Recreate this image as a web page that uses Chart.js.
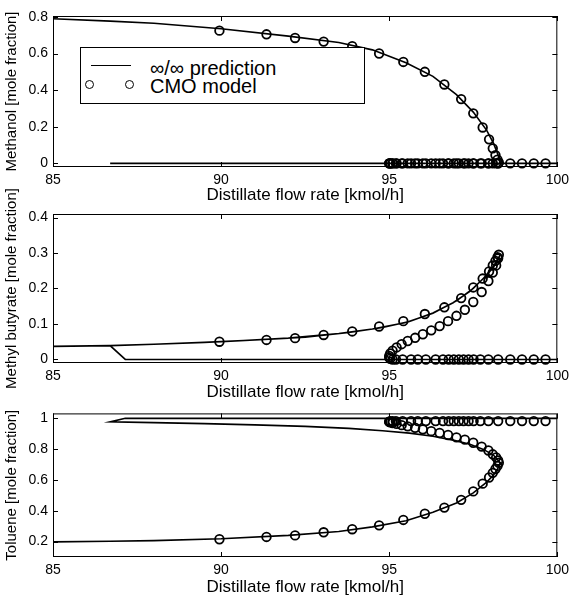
<!DOCTYPE html>
<html>
<head>
<meta charset="utf-8">
<script src="https://cdn.jsdelivr.net/npm/chart.js@4.4.0/dist/chart.umd.min.js"></script>
<style>
    body { margin: 0; background: #fff; width: 574px; height: 598px; position: relative; overflow: hidden;
           font-family: "Liberation Sans", Arial, Helvetica, sans-serif; }
    .panel { position: absolute; left: 0; width: 574px; }
    #p1 { top: 0; height: 206px; }
    #p2 { top: 180px; height: 223px; }
    #p3 { top: 400px; height: 198px; }
    .legend { position: absolute; left: 80px; top: 47px; width: 283px; height: 55px; border: 1.4px solid #000;
              background: #fff; z-index: 5; }
    .legend .txt { position: absolute; left: 69px; font-size: 20px; line-height: 20px; color: #000; white-space: nowrap; }
    .legend .line { position: absolute; left: 10px; top: 17px; width: 40px; border-top: 1.5px solid #000; }
    .legend .dot { position: absolute; top: 32px; width: 7px; height: 7px; border: 1.8px solid #000; border-radius: 50%; }
</style>
</head>
<body>
<div class="panel" id="p1"><canvas id="methanolChart"></canvas></div>
<div class="panel" id="p2"><canvas id="butyrateChart"></canvas></div>
<div class="panel" id="p3"><canvas id="tolueneChart"></canvas></div>
<div class="legend">
    <div class="line"></div>
    <div class="txt" style="top: 10px;">∞/∞ prediction</div>
    <div class="dot" style="left: 4px;"></div>
    <div class="dot" style="left: 44px;"></div>
    <div class="txt" style="top: 28px;">CMO model</div>
</div>
<script>
// axis ticks
const flowTicks = [85, 90, 95, 100];
const methanolTicks = [0, 0.2, 0.4, 0.6, 0.8];
const methanolTickLabels = ['0', '0.2', '0.4', '0.6', '0.8'];
const butyrateTicks = [0, 0.1, 0.2, 0.3, 0.4];
const butyrateTickLabels = ['0', '0.1', '0.2', '0.3', '0.4'];
const tolueneTicks = [0.2, 0.4, 0.6, 0.8, 1];
const tolueneTickLabels = ['0.2', '0.4', '0.6', '0.8', '1'];

// inf/inf prediction, one continuation path: up to the turning point, back, then the pure toluene branch
const predFlow = [85, 86.7, 88, 90, 92, 93.5, 94.5, 95.5, 96.3, 97, 97.5, 97.9, 98.1, 98.25, 98.3,
                  98.1, 97.8, 97.4, 96.9, 96.3, 95.6, 94.8, 93.8, 92.5, 91, 89.5, 88, 86.7,
                  87.15, 100];
const predMethanol = [0.79, 0.777, 0.765, 0.735, 0.695, 0.66, 0.62, 0.55, 0.475, 0.375, 0.28, 0.18, 0.11, 0.04, 0,
                      0, 0, 0, 0, 0, 0, 0, 0, 0, 0, 0, 0, 0,
                      0, 0];
const predButyrate = [0.037, 0.039, 0.043, 0.05, 0.06, 0.073, 0.086, 0.104, 0.13, 0.165, 0.2, 0.238, 0.26, 0.283, 0.295,
                      0.262, 0.228, 0.192, 0.16, 0.131, 0.107, 0.09, 0.076, 0.063, 0.055, 0.048, 0.043, 0.039,
                      0, 0];
const predToluene = [0.198, 0.202, 0.206, 0.218, 0.24, 0.265, 0.295, 0.335, 0.39, 0.45, 0.515, 0.585, 0.63, 0.68, 0.71,
                     0.76, 0.797, 0.83, 0.857, 0.882, 0.902, 0.918, 0.933, 0.946, 0.956, 0.964, 0.97, 0.975,
                     0.998, 0.998];

// CMO model points, same path order
const cmoFlow = [89.95, 91.35, 92.2, 93.05, 93.9, 94.7, 95.42, 96.06, 96.64, 97.14, 97.5, 97.78, 97.97, 98.08, 98.16, 98.22, 98.26,
                 98.24, 98.18, 98.08, 97.95, 97.75, 97.5, 97.25, 97.0, 96.75, 96.5, 96.25, 96.0, 95.77, 95.55, 95.37, 95.22, 95.1,
                 95.03, 95.0, 95.0, 95.03, 95.1,
                 95.2, 95.4, 95.65, 95.85, 96.09, 96.38, 96.6, 96.77, 96.92, 97.07, 97.21, 97.36, 97.51, 97.71, 97.95, 98.24,
                 98.6, 98.95, 99.3, 99.65];
const cmoMethanol = [0.725, 0.705, 0.685, 0.665, 0.64, 0.6, 0.554, 0.5, 0.431, 0.351, 0.273, 0.196, 0.131, 0.082, 0.045, 0.02, 0.005,
                     0, 0, 0, 0, 0, 0, 0, 0, 0, 0, 0, 0, 0, 0, 0, 0, 0,
                     0, 0, 0, 0, 0,
                     0, 0, 0, 0, 0, 0, 0, 0, 0, 0, 0, 0, 0, 0, 0, 0,
                     0, 0, 0, 0];
const cmoButyrate = [0.05, 0.055, 0.06, 0.069, 0.079, 0.093, 0.108, 0.128, 0.147, 0.173, 0.203, 0.228, 0.248, 0.265, 0.278, 0.288, 0.295,
                     0.285, 0.265, 0.245, 0.221, 0.19, 0.162, 0.14, 0.123, 0.108, 0.094, 0.082, 0.071, 0.061, 0.052, 0.043, 0.034, 0.025,
                     0.017, 0.01, 0.005, 0.002, 0,
                     0, 0, 0, 0, 0, 0, 0, 0, 0, 0, 0, 0, 0, 0, 0, 0,
                     0, 0, 0, 0];
const cmoToluene = [0.215, 0.23, 0.24, 0.26, 0.28, 0.305, 0.34, 0.38, 0.42, 0.47, 0.525, 0.575, 0.615, 0.645, 0.67, 0.69, 0.71,
                    0.725, 0.745, 0.765, 0.79, 0.815, 0.84, 0.86, 0.875, 0.89, 0.903, 0.915, 0.927, 0.937, 0.946, 0.954, 0.962, 0.968,
                    0.972, 0.975, 0.977, 0.979, 0.98,
                    0.98, 0.98, 0.98, 0.98, 0.98, 0.98, 0.98, 0.98, 0.98, 0.98, 0.98, 0.98, 0.98, 0.98, 0.98, 0.98,
                    0.98, 0.98, 0.98, 0.98];

const FONT = '"Liberation Sans", Arial, Helvetica, sans-serif';

// box round the plot with inward ticks on all four sides
const matlabFrame = {
    id: 'matlabFrame',
    afterDatasetsDraw(chart) {
        const { ctx, chartArea: a, scales: { x, y } } = chart;
        ctx.save();
        ctx.strokeStyle = '#000';
        ctx.lineWidth = 1;
        ctx.strokeRect(a.left + 0.5, a.top + 0.5, a.right - a.left - 1, a.bottom - a.top - 1);
        ctx.beginPath();
        x.ticks.forEach(t => {
            const px = Math.round(x.getPixelForValue(t.value)) + 0.5;
            ctx.moveTo(px, a.bottom); ctx.lineTo(px, a.bottom - 5);
            ctx.moveTo(px, a.top); ctx.lineTo(px, a.top + 5);
        });
        y.ticks.forEach(t => {
            const py = Math.round(y.getPixelForValue(t.value)) + 0.5;
            ctx.moveTo(a.left, py); ctx.lineTo(a.left + 5, py);
            ctx.moveTo(a.right, py); ctx.lineTo(a.right - 5, py);
        });
        ctx.stroke();
        ctx.restore();
    }
};

const toPoints = (xs, ys) => xs.map((v, i) => ({ x: v, y: ys[i] }));

const makeChart = (id, cfg) => {
    new Chart(document.getElementById(id), {
        type: 'scatter',
        data: {
            datasets: [
                {
                    label: '∞/∞ prediction',
                    data: toPoints(predFlow, cfg.pred),
                    showLine: true,
                    borderColor: '#000',
                    borderWidth: 1.6,
                    pointRadius: 0,
                    tension: 0,
                    clip: false
                },
                {
                    label: 'CMO model',
                    data: toPoints(cmoFlow, cfg.cmo),
                    showLine: false,
                    pointRadius: 4.3,
                    pointBorderWidth: 1.8,
                    pointBorderColor: '#000',
                    pointBackgroundColor: 'rgba(0,0,0,0)',
                    clip: false
                }
            ]
        },
        options: {
            responsive: true,
            maintainAspectRatio: false,
            animation: false,
            events: [],
            layout: { padding: { top: cfg.padTop, right: 12, left: 0, bottom: 0 } },
            plugins: { legend: { display: false }, tooltip: { enabled: false } },
            scales: {
                x: {
                    type: 'linear',
                    min: 85,
                    max: 100,
                    grid: { display: false, drawTicks: false },
                    border: { display: false },
                    afterBuildTicks: s => { s.ticks = flowTicks.map(v => ({ value: v })); },
                    afterFit: s => { s.height = cfg.xHeight; },
                    ticks: { color: '#000', font: { family: FONT, size: 14 }, padding: 5, maxRotation: 0, autoSkip: false },
                    title: {
                        display: true,
                        text: 'Distillate flow rate [kmol/h]',
                        color: '#000',
                        font: { family: FONT, size: 17 },
                        padding: 0
                    }
                },
                y: {
                    type: 'linear',
                    min: cfg.min,
                    max: cfg.max,
                    grid: { display: false, drawTicks: false },
                    border: { display: false },
                    afterBuildTicks: s => { s.ticks = cfg.ticks.map(v => ({ value: v })); },
                    afterFit: s => { s.width = 53; },
                    ticks: {
                        color: '#000',
                        font: { family: FONT, size: 14 },
                        padding: 5,
                        autoSkip: false,
                        callback: (v, i) => cfg.labels[i]
                    },
                    title: {
                        display: true,
                        text: cfg.title,
                        color: '#000',
                        font: { family: FONT, size: 15 },
                        padding: { top: 3, bottom: 0 }
                    }
                }
            }
        },
        plugins: [matlabFrame]
    });
};

makeChart('methanolChart', {
    pred: predMethanol, cmo: cmoMethanol, min: -0.02, max: 0.805,
    ticks: methanolTicks, labels: methanolTickLabels, title: 'Methanol [mole fraction]',
    padTop: 16, xHeight: 39
});
makeChart('butyrateChart', {
    pred: predButyrate, cmo: cmoButyrate, min: -0.01, max: 0.41,
    ticks: butyrateTicks, labels: butyrateTickLabels, title: 'Methyl butyrate [mole fraction]',
    padTop: 34, xHeight: 40
});
makeChart('tolueneChart', {
    pred: predToluene, cmo: cmoToluene, min: 0.1, max: 1.03,
    ticks: tolueneTicks, labels: tolueneTickLabels, title: 'Toluene [mole fraction]',
    padTop: 7, xHeight: 41
});
</script>
</body>
</html>
